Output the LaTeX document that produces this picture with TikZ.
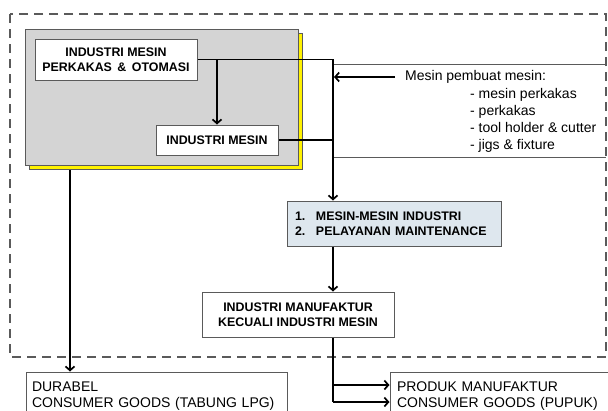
\documentclass[tikz,border=0pt]{standalone}
\usepackage{fontspec}
\setmainfont{Liberation Sans}
\usetikzlibrary{arrows.meta,shadows}

\definecolor{abu}{HTML}{D4D4D4}
\definecolor{biru}{HTML}{DEE7EE}
\definecolor{garisabu}{HTML}{5A5A5A}

\begin{document}
\begin{tikzpicture}[x=1pt, y=-1pt,
		kotak/.style={draw=garisabu, line width=1pt, fill=white, inner sep=0pt, align=center, font=\bfseries\fontsize{12.4}{15}\selectfont},
		teks/.style={inner sep=0pt, align=left, font=\fontsize{14}{17}\selectfont},
		panah/.style={line width=1.7pt, -{Straight Barb[length=4pt,width=9pt]}},
		garis/.style={line width=1.7pt},
		tipis/.style={draw=garisabu, line width=0.9pt},
		putus/.style={draw=garisabu, line width=2.2pt, dash pattern=on 9pt off 6pt}
	]
	\clip (0,0) rectangle (608,410);

	%Kotak putus-putus
	\draw[putus] (10,14) rectangle (606,357);

	%Blok abu-abu dengan bayangan kuning
	\node[draw=garisabu, line width=1pt, fill=abu, minimum width=273pt, minimum height=136pt,
		copy shadow={fill=yellow, draw=garisabu, shadow xshift=4pt, shadow yshift=-4.5pt}] (blok) at (161.5,97) {};

	%Kotak-kotak
	\node[kotak, minimum width=162pt, minimum height=41pt] (perkakas) at (116,59.5) {INDUSTRI MESIN\\PERKAKAS \,\&\, OTOMASI};
	\node[kotak, minimum width=122pt, minimum height=30pt] (mesin) at (217,140) {INDUSTRI MESIN};
	\node[kotak, fill=biru, minimum width=214pt, minimum height=45pt, inner xsep=8pt, text width=198pt, align=left] (layanan) at (394,223.5)
		{\makebox[21pt][l]{1.}MESIN-MESIN INDUSTRI\\\makebox[21pt][l]{2.}PELAYANAN MAINTENANCE};
	\node[kotak, minimum width=192pt, minimum height=45pt] (manufaktur) at (298,314.5) {INDUSTRI MANUFAKTUR\\KECUALI INDUSTRI MESIN};
	\node[kotak, font=\fontsize{14}{16.5}\selectfont, minimum width=261pt, minimum height=48pt, text width=249pt, align=left] (durabel) at (156.5,396)
		{DURABEL\\CONSUMER GOODS (TABUNG LPG)};
	\node[kotak, font=\fontsize{14}{16.5}\selectfont, minimum width=230pt, minimum height=48pt, text width=216pt, align=left] (produk) at (505,396)
		{PRODUK MANUFAKTUR\\CONSUMER GOODS (PUPUK)};

	%Keterangan mesin pembuat mesin
	\node[teks, inner xsep=10pt, anchor=west] (pembuat) at (395,77) {Mesin pembuat mesin:};
	\node[teks, anchor=west] (daftar) at (470,120.5) {- mesin perkakas\\- perkakas\\- tool holder \& cutter\\- jigs \& fixture};

	%Titik bantu
	\coordinate (jalur) at (333,59.5);
	\coordinate (kaatas) at (606,64);
	\coordinate (kabawah) at (606,157);
	\coordinate (kiri) at (70,170);
	\coordinate (cabang1) at (333,385);
	\coordinate (cabang2) at (333,402);

	%Garis tipis
	\draw[tipis] (jalur |- kaatas) -- (kaatas);
	\draw[tipis] (jalur |- kabawah) -- (kabawah);

	%Panah-panah
	\draw[panah] (perkakas.east) -- (jalur) -- (jalur |- layanan.north);
	\draw[panah] (perkakas.east -| mesin.north) -- (mesin.north);
	\draw[garis] (mesin.east) -- (jalur |- mesin.east);
	\draw[panah] (pembuat.west) -- ([xshift=1pt]jalur |- pembuat.west);
	\draw[panah] (jalur |- layanan.south) -- (jalur |- manufaktur.north);
	\draw[garis] (jalur |- manufaktur.south) -- (cabang2);
	\draw[panah] (cabang1) -- (cabang1 -| produk.west);
	\draw[panah] (cabang2) -- (cabang2 -| produk.west);
	\draw[panah] (kiri) -- (kiri |- durabel.north);
\end{tikzpicture}
\end{document}
